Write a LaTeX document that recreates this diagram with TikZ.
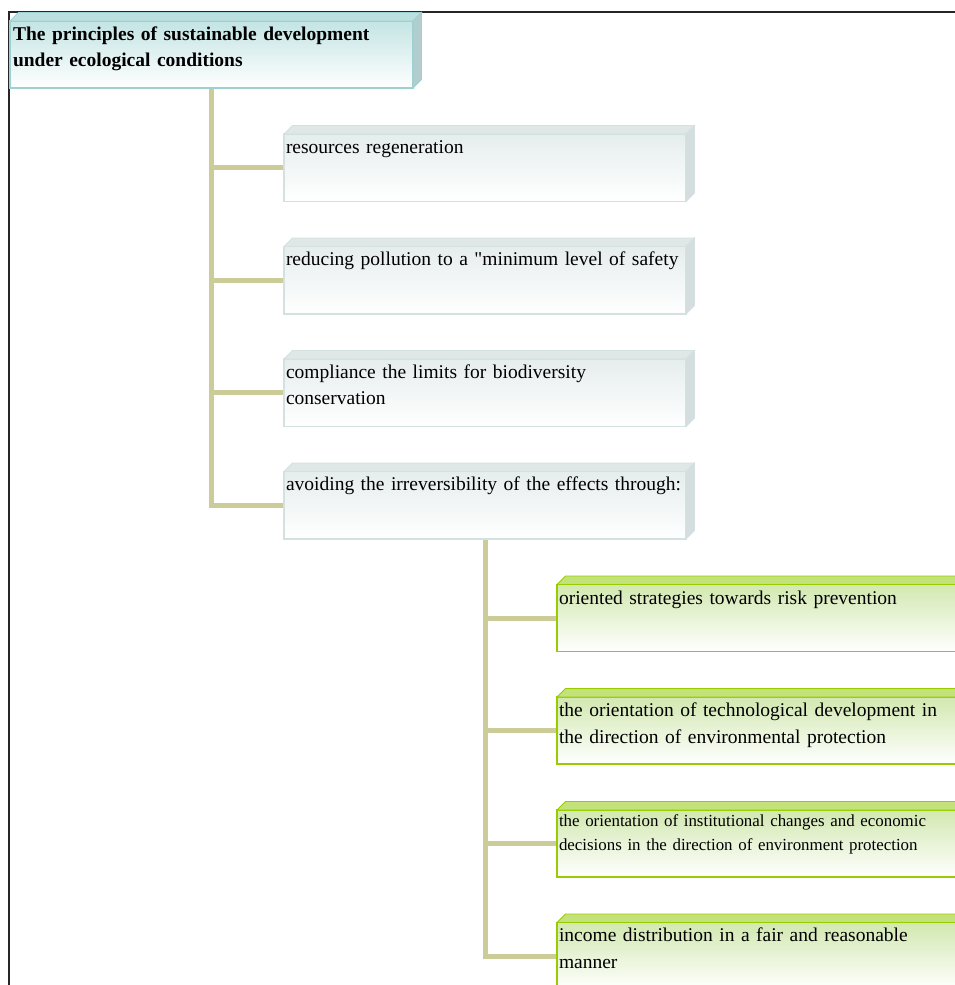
\documentclass[tikz,border=0pt]{standalone}
\usepackage{fontspec}
\setmainfont{Liberation Serif}
\usetikzlibrary{backgrounds}
\definecolor{tealB}{HTML}{9DD0D0}
\definecolor{tealF}{HTML}{C4E4E4}
\definecolor{tealT}{HTML}{BCE0E0}
\definecolor{tealS}{HTML}{B2CDCD}
\definecolor{grayB}{HTML}{D5E0E0}
\definecolor{grayF}{HTML}{E6EDED}
\definecolor{grayT}{HTML}{DFE7E7}
\definecolor{grayS}{HTML}{D5DEDE}
\definecolor{greenB}{HTML}{99CC00}
\definecolor{greenF}{HTML}{D2E8B0}
\definecolor{greenT}{HTML}{C4E27A}
\definecolor{connC}{HTML}{CCCC99}
\newcommand{\qdbl}{\XeTeXglyph\XeTeXglyphindex "quotedbl"\relax}
\begin{document}
\begin{tikzpicture}[x=1pt,y=-1pt,
  box/.style={anchor=north west, inner sep=0pt, outer sep=0pt, line width=1.3pt, bottom color=white},
  titlebox/.style={box, draw=tealB, top color=tealF, minimum width=403pt, minimum height=67pt},
  graybox/.style={box, draw=grayB, top color=grayF, minimum width=402pt, minimum height=67.5pt},
  greenbox/.style={box, draw=greenB, top color=greenF, minimum width=450pt, minimum height=67pt},
  txt/.style={anchor=base west, inner sep=0pt, outer sep=0pt, align=left, text width=560pt, font=\fontsize{19.5}{26.5}\selectfont},
  smalltxt/.style={txt, font=\fontsize{16.9}{23.3}\selectfont},
  conn/.style={draw=connC, line width=5pt},
  frame/.style={draw=black!85, line width=2pt}
]
\useasboundingbox (0,0) rectangle (955,985);
\clip (0,0) rectangle (955,985);

% frame
\coordinate (fa) at (9,985);
\coordinate (fb) at (9,11.5);
\coordinate (fc) at (955,11.5);
\draw[frame] (fa) -- (fb) -- (fc);

% 3D faces macro
\newcommand{\facesthree}[4]{%
  \filldraw[fill=#2, draw=#4, line width=0.8pt] (#1.north west) -- ([shift={(8.5,-8.5)}]#1.north west) -- ([shift={(8.5,-8.5)}]#1.north east) -- (#1.north east) -- cycle;
  \filldraw[fill=#3, draw=#4, line width=0.8pt] (#1.north east) -- ([shift={(8.5,-8.5)}]#1.north east) -- ([shift={(8.5,-8.5)}]#1.south east) -- (#1.south east) -- cycle;
}

% title
\node[titlebox] (t) at (10,21) {};
\facesthree{t}{tealT}{tealS}{tealB}
\node[txt] (tt) at (13,40) {\bfseries The principles of sustainable development\\under ecological conditions};

% gray boxes
\node[graybox] (g1) at (284,134) {};
\node[graybox] (g2) at (284,246.5) {};
\node[graybox] (g3) at (284,359) {};
\node[graybox] (g4) at (284,471.5) {};
\foreach \b in {g1,g2,g3,g4}{\facesthree{\b}{grayT}{grayS}{grayB}}
\node[txt] (g1t) at (286,153) {resources regeneration};
\node[txt] (g2t) at (286,265.5) {reducing pollution to a \qdbl minimum level of safety};
\node[txt] (g3t) at (286,378) {compliance the limits for biodiversity\\conservation};
\node[txt] (g4t) at (286,490.5) {avoiding the irreversibility of the effects through:};

% green boxes
\node[greenbox] (r1) at (557,584.5) {};
\node[greenbox] (r2) at (557,697) {};
\node[greenbox] (r3) at (557,810) {};
\node[greenbox] (r4) at (557,922.5) {};
\foreach \b in {r1,r2,r3,r4}{\facesthree{\b}{greenT}{greenT}{greenB}}
\node[txt] (r1t) at (559,604) {oriented strategies towards risk prevention};
\node[txt] (r2t) at (559,716.5) {the orientation of technological development in\\the direction of environmental protection};
\node[smalltxt] (r3t) at (559,826.7) {the orientation of institutional changes and economic\\decisions in the direction of environment protection};
\node[txt] (r4t) at (559,941.5) {income distribution in a fair and reasonable\\manner};

% connectors
\begin{scope}[on background layer]
\draw[conn] (t.south) |- (g4.west);
\foreach \b in {g1,g2,g3}{\draw[conn] (t.south |- \b.west) -- (\b.west);}
\draw[conn] (g4.south) |- (r4.west);
\foreach \b in {r1,r2,r3}{\draw[conn] (g4.south |- \b.west) -- (\b.west);}
\end{scope}
\end{tikzpicture}
\end{document}
